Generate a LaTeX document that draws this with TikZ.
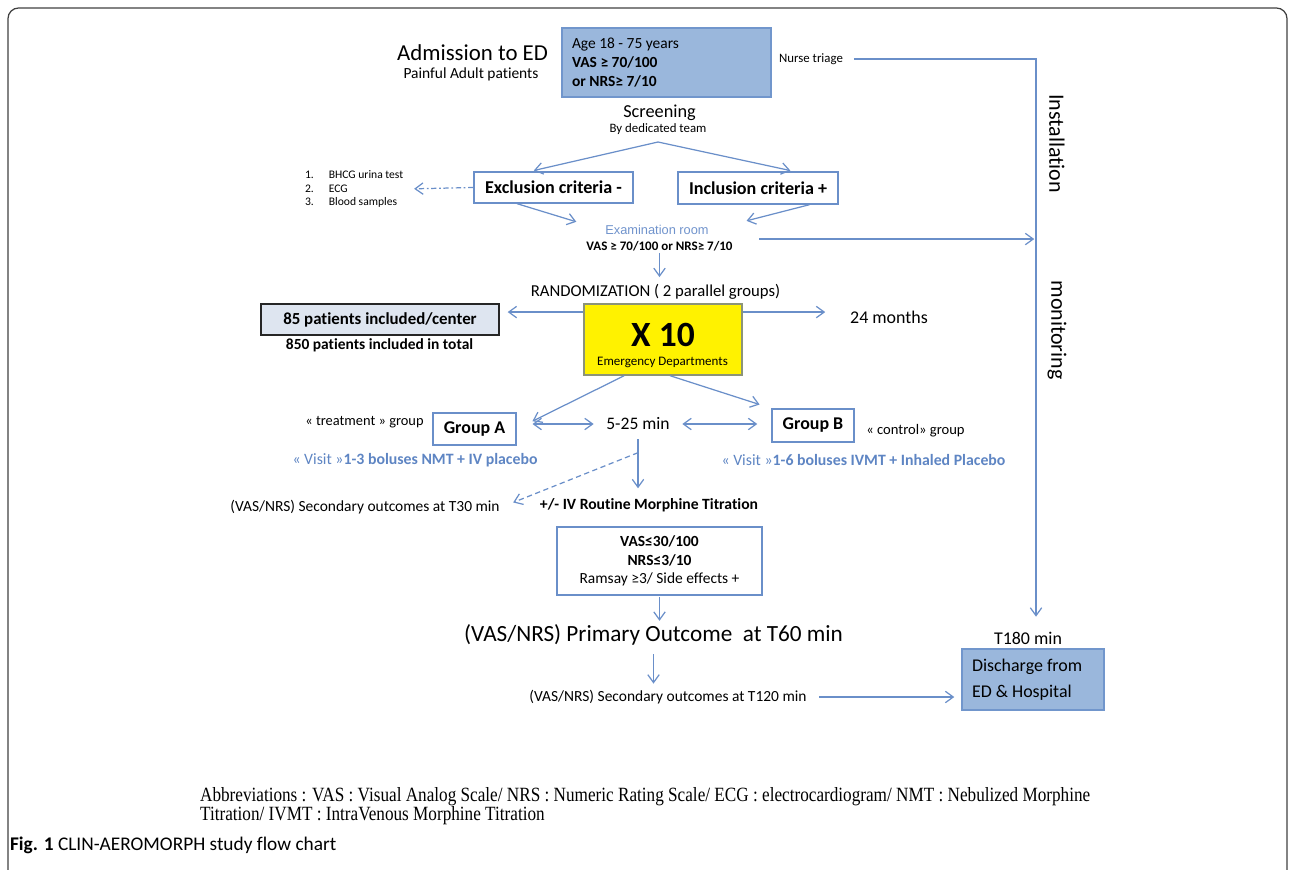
\documentclass[tikz,border=0pt]{standalone}
\usepackage{fontspec}
\setmainfont{Carlito}[Ligatures=NoCommon]
\newfontfamily\arialfont{Liberation Sans}
\newfontfamily\abbrfont[FakeStretch=0.85]{Liberation Serif}
\usetikzlibrary{arrows.meta}
\newcommand{\fsz}[2]{\fontsize{#1pt}{#2pt}\selectfont}

\begin{document}
\begin{tikzpicture}[x=0.02cm,y=-0.02cm,
		every node/.style={inner sep=1pt},
		>={Straight Barb[length=4.5pt,width=6.5pt]},
		arr/.style={->,draw=arrowblue,line width=0.7pt},
		darr/.style={<->,draw=arrowblue,line width=0.7pt},
		bluebox/.style={draw=boxedge,fill=boxfill,line width=0.8pt,inner xsep=0.2cm,align=flush left},
		whitebox/.style={draw=arrowblue,line width=0.8pt,fill=white}]
		\definecolor{arrowblue}{HTML}{6A8FC9}
		\definecolor{boxfill}{HTML}{9AB7DC}
		\definecolor{boxedge}{HTML}{7196CC}
		\definecolor{examblue}{HTML}{7093CC}
		\definecolor{visitblue}{HTML}{5E85C3}
		\definecolor{patfill}{HTML}{DEE5F0}
		\definecolor{patedge}{HTML}{262626}
		\definecolor{yeledge}{HTML}{8C9478}
		\definecolor{framegray}{HTML}{404040}
		\useasboundingbox (0,0) rectangle (1290,869);
		\draw[framegray,line width=0.7pt,rounded corners=6pt] (8,8) rectangle (1287,880);

		\node[font=\fsz{13}{15}] (adm) at (472.5,53) {Admission to ED};
		\node[font=\fsz{8.8}{10}] (painful) at (471,74) {Painful Adult patients};
		\node[bluebox,text width=3.78cm,minimum height=1.38cm,font=\fsz{8.8}{10.8}] (agebox) at (666.5,62.5) {Age 18 - 75 years\\\textbf{VAS ≥ 70/100}\\\textbf{or NRS≥ 7/10}};
		\node[font=\fsz{7.3}{8}] (triage) at (811,59) {Nurse triage};
		\node[font=\fsz{10.4}{12}] (screen) at (659.5,113) {Screening};
		\node[font=\fsz{7.3}{8}] (team) at (658,129) {By dedicated team};
		\coordinate (split) at (658,142);
		\coordinate (rside) at (1036,59);

		\node[whitebox,minimum width=3.18cm,minimum height=0.62cm,font=\fsz{10.3}{12}\bfseries] (excl) at (553.5,187.5) {Exclusion criteria -};
		\node[whitebox,minimum width=3.2cm,minimum height=0.64cm,font=\fsz{10.3}{12}\bfseries] (incl) at (758,188) {Inclusion criteria +};
		\node[anchor=west,align=left,font=\fsz{6.6}{7.9}] (list) at (303,189) {\makebox[13.5pt][l]{1.}BHCG urina test\\\makebox[13.5pt][l]{2.}ECG\\\makebox[13.5pt][l]{3.}Blood samples};
		\node[font=\arialfont\fsz{7.3}{8},text=examblue] (exam) at (657,230) {Examination room};
		\node[font=\fsz{7.4}{8}\bfseries] (vas2) at (659.5,246) {VAS ≥ 70/100 or NRS≥ 7/10};
		\node[font=\fsz{9.5}{11}] (rand) at (655.5,292) {RANDOMIZATION ( 2 parallel groups)};

		\node[draw=patedge,fill=patfill,line width=0.9pt,minimum width=4.76cm,minimum height=0.62cm,font=\fsz{9.6}{11}\bfseries] (pat) at (380,319.5) {85 patients included/center};
		\node[font=\fsz{8.8}{10}\bfseries] (total) at (379.5,345) {850 patients included in total};
		\node[draw=yeledge,fill=yellow,line width=0.8pt,minimum width=3.16cm,minimum height=1.42cm] (yel) at (663,339.5) {};
		\node[font=\fsz{20.2}{22}\bfseries] (xten) at (663,335) {X 10};
		\node[font=\fsz{7.4}{8}] (edept) at (662.5,362) {Emergency Departments};
		\node[font=\fsz{10.2}{12}] (months) at (889,317) {24 months};

		\node[font=\fsz{8.2}{9}] (treat) at (364.5,422) {« treatment » group};
		\node[whitebox,minimum width=1.66cm,minimum height=0.64cm,font=\fsz{10.2}{12}\bfseries] (grpA) at (474.5,429) {Group A};
		\node[font=\fsz{10}{12}] (five) at (638,424) {5-25 min};
		\node[whitebox,minimum width=1.64cm,minimum height=0.66cm,font=\fsz{10.2}{12}\bfseries] (grpB) at (813,425.5) {Group B};
		\node[font=\fsz{8.3}{9}] (ctrl) at (915.5,431) {« control» group};
		\node[font=\fsz{9}{10},text=visitblue] (visA) at (415,460) {« Visit »\textbf{1-3 boluses NMT + IV placebo}};
		\node[font=\fsz{9}{10},text=visitblue] (visB) at (863.5,460) {« Visit »\textbf{1-6 boluses IVMT + Inhaled Placebo}};
		\node[font=\fsz{8.8}{10}] (sec30) at (365,507) {(VAS/NRS) Secondary outcomes at T30 min};
		\node[font=\fsz{8.9}{10}\bfseries] (morph) at (649,505) {+/- IV Routine Morphine Titration};

		\node[whitebox,minimum width=4.1cm,minimum height=1.36cm,align=center,font=\fsz{8.8}{10.5}] (crit) at (659.5,561) {\textbf{VAS≤30/100}\\\textbf{NRS≤3/10}\\Ramsay ≥3/ Side effects +};
		\node[font=\fsz{13.2}{15}] (prim) at (653.5,635) {(VAS/NRS) Primary Outcome\ \ at T60 min};
		\node[font=\fsz{8.8}{10}] (sec120) at (668,697) {(VAS/NRS) Secondary outcomes at T120 min};
		\node[font=\fsz{10.2}{12}] (t180) at (1028,638) {T180 min};
		\node[bluebox,text width=2.44cm,minimum height=1.22cm,font=\fsz{10.2}{14.7}] (disch) at (1033,679.5) {Discharge from\\ED \& Hospital};
		\node[rotate=-90,font=\fsz{12.5}{14}] (inst) at (1057,143.5) {Installation};
		\node[rotate=-90,font=\fsz{12.5}{14}] (moni) at (1057,330) {monitoring};

		\draw[arr,shorten <=5pt,shorten >=7.4pt] (triage.east) -- (rside) -- (rside |- t180.north);
		\draw[arr,shorten >=2pt] (split) -- (excl.145);
		\draw[arr,shorten >=2pt] (split) -- (incl.25);
		\draw[arr,dash pattern=on 3pt off 1.5pt on 1pt off 1.5pt,shorten >=5pt] (excl.west) -- (list.east);
		\draw[arr,shorten >=16pt] (excl.-156) -- (exam.west);
		\draw[arr,shorten >=21pt] (incl.-18) -- (exam.east);
		\draw[arr,shorten <=14pt,shorten >=1pt] (vas2.north east) -- (vas2.north east -| rside);
		\draw[arr,shorten >=3pt] (vas2.south) -- (vas2.south |- rand.north);
		\draw[arr,shorten >=4.5pt] (yel.161) -- (yel.161 -| pat.east);
		\draw[arr,shorten >=13pt] (yel.19) -- (yel.19 -| months.west);
		\draw[arr,shorten >=10pt] (yel.-137) -- (grpA.east);
		\draw[arr,shorten >=7pt] (yel.-79) -- (grpB.north west);
		\draw[darr,shorten <=9pt,shorten >=6pt] (five.west -| grpA.east) -- (five.west);
		\draw[darr,shorten <=6pt,shorten >=8pt] (five.east) -- (five.east -| grpB.west);
		\draw[arr,shorten <=4pt,shorten >=4.5pt] (five.south) -- coordinate[pos=0.32] (dsplit) (five.south |- morph.north);
		\draw[arr,dash pattern=on 3pt off 2pt,shorten >=7pt] (dsplit) -- (sec30.east);
		\draw[arr,shorten <=1pt,shorten >=1pt] (crit.south) -- (crit.south |- prim.north);
		\draw[arr,shorten <=4pt,shorten >=2.5pt] (prim.south) -- (prim.south |- sec120.north);
		\draw[arr,shorten <=6pt,shorten >=4pt] (sec120.east) -- (sec120.east -| disch.west);

		\node[anchor=west,align=left,font=\abbrfont\fsz{11.5}{10.8}] (abbr) at (198,806.5) {Abbreviations : VAS : Visual Analog Scale/ NRS : Numeric Rating Scale/ ECG : electrocardiogram/ NMT : Nebulized Morphine\\Titration/ IVMT : IntraVenous Morphine Titration};
		\node[anchor=west,font=\fsz{11}{13}] (cap) at (8,845) {\textbf{Fig. 1} CLIN-AEROMORPH study flow chart};
\end{tikzpicture}
\end{document}
